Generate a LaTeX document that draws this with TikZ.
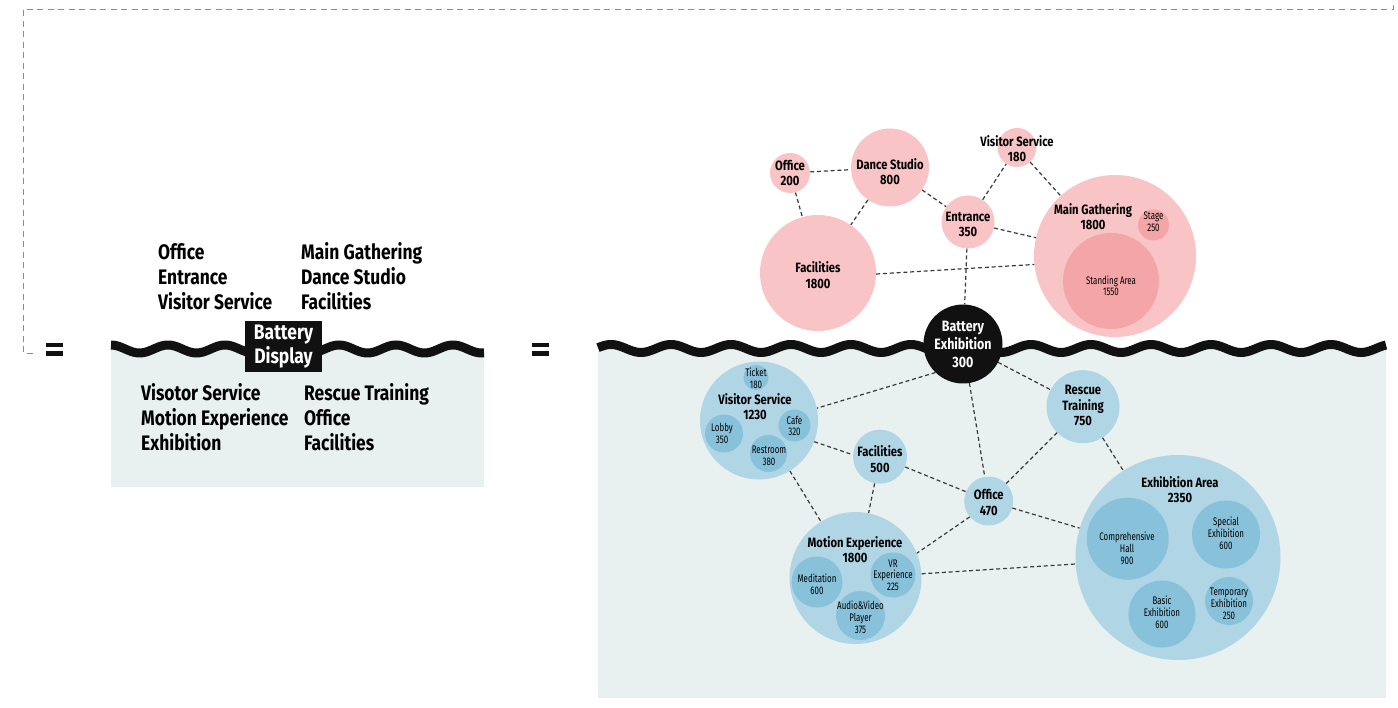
\documentclass[tikz,border=0pt]{standalone}
\usepackage{fontspec}
\setmainfont{Fira Sans}[FakeStretch=0.83]
\newfontfamily\roomfont{Fira Sans}[FakeStretch=0.72]
\definecolor{ink}{HTML}{111111}
\definecolor{rosefill}{HTML}{F8C4C6}
\definecolor{rosecore}{HTML}{F3A5A8}
\definecolor{skyfill}{HTML}{B0D6E6}
\definecolor{skycore}{HTML}{88C1DA}
\definecolor{water}{HTML}{E8F1F0}
\definecolor{linkgrey}{HTML}{3A3A3A}
\definecolor{framegrey}{HTML}{8C8C8C}
\tikzset{
  room/.style={circle,inner sep=0pt,minimum size=#1},
  pbub/.style={room=#1,fill=rosefill},
  pcore/.style={room=#1,fill=rosecore},
  bbub/.style={room=#1,fill=skyfill},
  bcore/.style={room=#1,fill=skycore},
  % multi-line tags sit on the baseline of their last line
  tag/.style={font=\bfseries\fontsize{13.5}{15.5}\selectfont,align=center,anchor=base,inner sep=0pt},
  subtag/.style={font=\roomfont\fontsize{11}{11.8}\selectfont,align=center,anchor=base,inner sep=0pt},
  listtxt/.style={font=\bfseries\fontsize{21}{24}\selectfont,anchor=base west,inner sep=0pt},
  link/.style={draw=linkgrey,line width=1.2pt,dash pattern=on 4pt off 2.8pt},
  wave/.style={draw=ink,line width=9pt},
  frame/.style={draw=framegrey,line width=.9pt,dash pattern=on 6pt off 4.5pt}}
\begin{document}
\begin{tikzpicture}[x=1pt,y=-1pt]
\useasboundingbox (0,0) rectangle (1398,708);
% open dashed frame round the upper part
\draw[frame] (33,353) -- (23,353) -- (23,9.5) -- (1393,9.5) -- (1393,3);
% ground strips and their wavy surface
\fill[water] (111,349) rectangle (484,487);
\fill[water] (598,348) rectangle (1386,698);
\draw[wave] plot[domain=111:484,samples=150] (\x,{349-4*cos((\x-111)/57*360)});
\draw[wave] plot[domain=598:1386,samples=250] (\x,{348.5-4*cos((\x-611)/60*360)});
\foreach \x in {46,532}{
  \fill[ink] (\x,343) rectangle ++(16.5,4.5);
  \fill[ink] (\x,351.5) rectangle ++(16.5,4.5);}

% left summary
\foreach \t [count=\i] in {Office,Entrance,Visitor Service}
  \node[listtxt] (upl-\i) at (158,{260+24.7*(\i-1)}) {\t};
\foreach \t [count=\i] in {Main Gathering,Dance Studio,Facilities}
  \node[listtxt] (upr-\i) at (301,{260+24.7*(\i-1)}) {\t};
\foreach \t [count=\i] in {Visotor Service,Motion Experience,Exhibition}
  \node[listtxt] (lol-\i) at (141,{401+24.5*(\i-1)}) {\t};
\foreach \t [count=\i] in {Rescue Training,Office,Facilities}
  \node[listtxt] (lor-\i) at (304,{401+24.5*(\i-1)}) {\t};
\node[fill=ink,text=white,font=\bfseries\fontsize{21}{24}\selectfont,align=center,
  minimum width=77pt,minimum height=51pt,inner sep=0pt] (batbox) at (283.5,346.5) {Battery\\Display};

% upper rooms
\node[pbub=40pt] (poff) at (790,173) {};
\node[pbub=78pt] (pdance) at (890,167.5) {};
\node[pbub=116pt] (pfac) at (818,273) {};
\node[pbub=39pt] (pvis) at (1017,147.5) {};
\node[pbub=53pt] (pent) at (968,222) {};
\node[pbub=162pt] (pmain) at (1115,256) {};
\node[pcore=31pt] (pstage) at (1153.5,225) {};
\node[pcore=96pt] (pstand) at (1111,281) {};
\node[room=79pt,fill=ink] (bat) at (963,344) {};

% lower rooms
\node[bbub=118pt] (bvis) at (759,420.5) {};
\node[bcore=25pt] (bticket) at (756,377.5) {};
\node[bcore=38pt] (blobby) at (724,433.5) {};
\node[bcore=32pt] (bcafe) at (794.5,425.5) {};
\node[bcore=37pt] (brest) at (768.5,453.5) {};
\node[bbub=54pt] (bfac) at (880,456.7) {};
\node[bbub=49pt] (boff) at (988.7,501) {};
\node[bbub=73pt] (bres) at (1083,406.7) {};
\node[bbub=132pt] (bmot) at (855.5,578) {};
\node[bcore=51pt] (bmed) at (817,582) {};
\node[bcore=45pt] (bvr) at (893,575) {};
\node[bcore=49pt] (bav) at (860.5,615.5) {};
\node[bbub=205pt] (bexh) at (1178,557.5) {};
\node[bcore=82pt] (bhall) at (1127.7,538.7) {};
\node[bcore=68pt] (bspec) at (1226,534.5) {};
\node[bcore=67pt] (bbasic) at (1162,614) {};
\node[bcore=48pt] (btemp) at (1229,601) {};

% adjacencies
\foreach \a/\b in {poff/pdance,poff/pfac,pdance/pfac,pdance/pent,pent/pvis,pvis/pmain,
    pent/pmain,pfac.-1/pmain.186,pent/bat,bat.226/bvis.12,bat/bres,bat/boff,
    bvis.-21/bfac.176,bvis/bmot,bfac/bmot,bfac/boff,boff/bres,boff.220/bmot.22,
    boff/bexh,bres/bexh,bmot/bexh}
  \draw[link] (\a) -- (\b);

% names and areas
\node[tag] (poff-t) at (790,186) {Office\\200};
\node[tag] (pdance-t) at (890,185) {Dance Studio\\800};
\node[tag] (pfac-t) at (818,288.3) {Facilities\\1800};
\node[tag] (pvis-t) at (1017,161.7) {Visitor Service\\180};
\node[tag] (pent-t) at (968,236.7) {Entrance\\350};
\node[tag] (pmain-t) at (1093,230) {Main Gathering\\1800};
\node[subtag] (pstage-t) at (1153.5,231.7) {Stage\\250};
\node[subtag] (pstand-t) at (1111,296) {Standing Area\\1550};
\node[tag,text=white,font=\bfseries\fontsize{15}{18}\selectfont] (bat-t) at (963,368) {Battery\\Exhibition\\300};
\node[tag] (bvis-t) at (755,420) {Visitor Service\\1230};
\node[subtag] (bticket-t) at (756,388.3) {Ticket\\180};
\node[subtag] (blobby-t) at (722,443.3) {Lobby\\350};
\node[subtag] (bcafe-t) at (794.5,436) {Cafe\\320};
\node[subtag] (brest-t) at (769,465) {Restroom\\380};
\node[tag] (bfac-t) at (880,472.3) {Facilities\\500};
\node[tag] (boff-t) at (988.7,515) {Office\\470};
\node[tag] (bres-t) at (1083,426) {Rescue\\Training\\750};
\node[tag] (bmot-t) at (855,562.7) {Motion Experience\\1800};
\node[subtag] (bmed-t) at (817,594) {Meditation\\600};
\node[subtag] (bvr-t) at (893,590.7) {VR\\Experience\\225};
\node[subtag] (bav-t) at (860.5,633.3) {Audio\&Video\\Player\\375};
\node[tag] (bexh-t) at (1180,502.7) {Exhibition Area\\2350};
\node[subtag] (bhall-t) at (1127,564) {Comprehensive\\Hall\\900};
\node[subtag] (bspec-t) at (1226,549.3) {Special\\Exhibition\\600};
\node[subtag] (bbasic-t) at (1162,628.3) {Basic\\Exhibition\\600};
\node[subtag] (btemp-t) at (1229,619) {Temporary\\Exhibition\\250};
\end{tikzpicture}
\end{document}
